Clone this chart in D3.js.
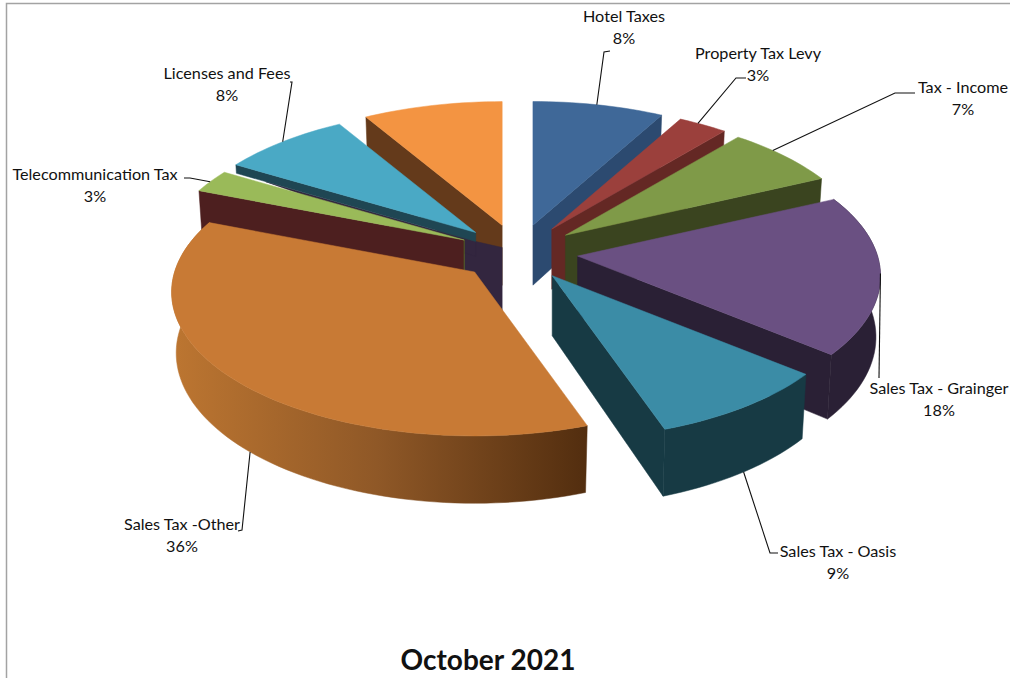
<!DOCTYPE html>
<html>
<head>
<meta charset="utf-8">
<script src="https://cdn.jsdelivr.net/npm/d3@7"></script>
<style>
    html, body { margin: 0; padding: 0; background: #fff; overflow: hidden; }
    text { font-family: Lato, "Open Sans", sans-serif; fill: #111; }
</style>
</head>
<body>
<svg id="chart" width="1010" height="678"></svg>
<script>
// Data
const categories = ['Hotel Taxes', 'Property Tax Levy', 'Tax - Income', 'Sales Tax - Grainger', 'Sales Tax - Oasis', 'Sales Tax -Other', 'Telecommunication Tax', 'Licenses and Fees', 'Other Revenue'];
const values = [8, 3, 7, 18, 8.72, 36.28, 2.61, 7.89, 8.5];
const chartTitle = 'October 2021';

// Colours
const topColors = ['#3f6898', '#9b403c', '#7f9a48', '#6a5082', '#3b8ca6', '#c87a35', '#9aba59', '#4aa9c5', '#f39442'];
const wallColors = ['#2c4a70', '#642824', '#3a441f', '#2a2035', '#173a44', '#8a5526', '#4d1f1f', '#1f4653', '#643a1b'];

// Label layout: centre of the text, leader angle on the rim, leader depth, then elbows
const labelLayout = [
    { x: 624, y: 22, angle: 14, z: 0, elbows: [[604, 52], [610, 51]] },
    { x: 758, y: 59, angle: 33, z: 0, elbows: [[736, 78], [746, 78]] },
    { x: 963, y: 93, angle: 49, z: 0, elbows: [[895, 93], [915, 93]] },
    { x: 939, y: 394, angle: 97, z: 0, elbows: [[879, 378]] },
    { x: 838, y: 557, angle: 145, z: 1, elbows: [[770, 553], [778, 553]] },
    { x: 182, y: 530, angle: 223, z: 1, elbows: [[242, 530], [238, 531]] },
    { x: 95, y: 180, angle: 296, z: 0, elbows: [[190, 178], [184, 178]] },
    { x: 227, y: 79, angle: 315, z: 0, elbows: [[292, 82], [290, 82]] }
];

// Pie geometry
const centerX = 518;
const centerY = 252.5;
const radiusX = 300;
const radiusY = 141;
const explode = 0.2;
const perspective = 0.14;
const depth = 60;
const depthShrink = 0.015;

const svg = d3.select('#chart');

// frame of the chart area
svg.append('path')
    .attr('d', 'M6.5,678V3.5H1010')
    .attr('fill', 'none')
    .attr('stroke', '#a3a3a3')
    .attr('stroke-width', 1.5);

const gradient = svg.append('defs').append('linearGradient')
    .attr('id', 'otherWall')
    .attr('gradientUnits', 'userSpaceOnUse')
    .attr('x1', 170).attr('x2', 585).attr('y1', 0).attr('y2', 0);
gradient.append('stop').attr('offset', '0%').attr('stop-color', '#bd7631');
gradient.append('stop').attr('offset', '50%').attr('stop-color', '#8f5827');
gradient.append('stop').attr('offset', '100%').attr('stop-color', '#532e0f');

const slices = d3.pie().sort(null).value(d => d)(values).map((s, i) => {
    const mid = (s.startAngle + s.endAngle) / 2;
    return {
        index: i,
        start: s.startAngle,
        end: s.endAngle,
        apexX: centerX + radiusX * explode * Math.sin(mid),
        apexY: centerY - radiusY * explode * Math.cos(mid)
    };
});

// Point of a slice: r is the share of the radius, z is 0 on top and 1 at the bottom of the wall
function project(slice, angle, r, z) {
    const u = r * Math.sin(angle);
    const v = -r * Math.cos(angle);
    const s = 1 / (1 - perspective * v);
    const shrink = 1 - depthShrink * z;
    return [
        slice.apexX + radiusX * s * u * shrink,
        slice.apexY + radiusY * s * v * shrink + depth * s * z
    ];
}

function rim(slice, from, to, z) {
    const steps = Math.max(2, Math.ceil(Math.abs(to - from) / 0.03));
    return d3.range(steps + 1).map(k => project(slice, from + (to - from) * k / steps, 1, z));
}

const line = d3.line().curve(d3.curveLinear);

function addPath(points, fill) {
    return svg.append('path')
        .attr('d', line(points) + 'Z')
        .attr('fill', fill)
        .attr('stroke', fill)
        .attr('stroke-width', 0.5)
        .attr('stroke-linejoin', 'round');
}

function drawTop(slice) {
    addPath([project(slice, slice.start, 0, 0)].concat(rim(slice, slice.start, slice.end, 0)), topColors[slice.index]);
}

// Flat wall along one radial edge of a slice, height is a share of the full depth
function drawRadialWall(slice, angle, height = 1) {
    addPath([
        project(slice, angle, 0, 0),
        project(slice, angle, 1, 0),
        project(slice, angle, 1, height),
        project(slice, angle, 0, height)
    ], wallColors[slice.index]);
}

// Curved wall along the rim
function drawRimWall(slice, fill) {
    addPath(rim(slice, slice.start, slice.end, 0).concat(rim(slice, slice.end, slice.start, 1)), fill);
}

// Left half, from the back to the front
const orange = slices[8];
const licenses = slices[7];
const telecom = slices[6];
const other = slices[5];

drawRadialWall(orange, orange.start);
drawTop(orange);

// dark core seen through the gap, over the foot of the orange wall
addPath([
    project(telecom, 0, 0, 0),
    project(licenses, 0, 0, 0.15),
    project(orange, 0, 0, 0.37),
    project(orange, 0, 0, 1.45),
    project(other, 0, 0, 1),
    project(telecom, 0, 0, 1)
], '#33263f');
// thin dark sliver under the blue wall
addPath([
    project(licenses, licenses.start, 0, 0.15),
    project(licenses, licenses.start, 0.87, 0.15),
    project(licenses, licenses.start, 0, 0.4)
], '#33263f');

drawRadialWall(licenses, licenses.start, 0.15);
drawTop(licenses);
drawRadialWall(telecom, telecom.start);
svg.append('path')
    .attr('d', line([project(telecom, 0, 0, 0), project(telecom, 0, 0, 0.5)]))
    .attr('stroke', '#4e5f28')
    .attr('stroke-width', 1);
drawTop(telecom);
drawRimWall(other, 'url(#otherWall)');
drawTop(other);

// Right half, from the back to the front
[0, 1, 2].forEach(i => {
    drawRadialWall(slices[i], slices[i].end);
    drawTop(slices[i]);
});
drawRimWall(slices[3], wallColors[3]);
drawRadialWall(slices[3], slices[3].end);
drawTop(slices[3]);
drawRimWall(slices[4], wallColors[4]);
drawRadialWall(slices[4], slices[4].end);
drawTop(slices[4]);

// Leaders and labels
labelLayout.forEach((d, i) => {
    const start = project(slices[i], d.angle * Math.PI / 180, 1, d.z);
    svg.append('path')
        .attr('d', line([start].concat(d.elbows)))
        .attr('fill', 'none')
        .attr('stroke', '#111')
        .attr('stroke-width', 1.1);

    const label = svg.append('text')
        .attr('text-anchor', 'middle')
        .attr('font-size', 16.2);
    label.append('tspan').attr('x', d.x).attr('y', d.y).text(categories[i]);
    label.append('tspan').attr('x', d.x).attr('y', d.y + 22).text(Math.round(values[i]) + '%');
});

svg.append('text')
    .attr('x', 488)
    .attr('y', 670)
    .attr('text-anchor', 'middle')
    .attr('font-size', 28)
    .attr('font-weight', 700)
    .text(chartTitle);
</script>
</body>
</html>
